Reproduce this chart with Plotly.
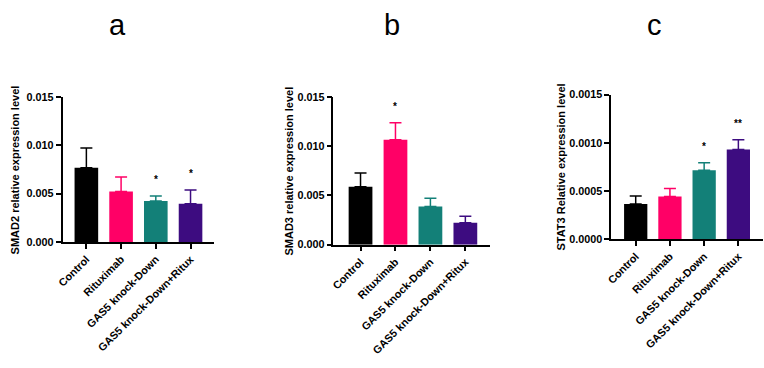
import plotly.graph_objects as go

categories = ["Control", "Rituximab", "GAS5 knock-Down", "GAS5 knock-Down+Ritux"]
colors = ["#000000", "#FF0066", "#138078", "#3D0C80"]

smad2_mean = [0.00767, 0.00523, 0.00423, 0.00397]
smad2_err = [0.00206, 0.00150, 0.00054, 0.00140]
smad2_sig = ["", "", "*", "*"]

smad3_mean = [0.00589, 0.01065, 0.00387, 0.00223]
smad3_err = [0.00138, 0.00173, 0.00085, 0.00066]
smad3_sig = ["", "*", "", ""]

stat3_mean = [0.000365, 0.000442, 0.000716, 0.000931]
stat3_err = [0.000084, 0.000083, 0.000078, 0.000100]
stat3_sig = ["", "", "*", "**"]

smad_ticks = [0, 0.005, 0.010, 0.015]
smad_ticktext = ["0.000", "0.005", "0.010", "0.015"]
stat_ticks = [0, 0.0005, 0.0010, 0.0015]
stat_ticktext = ["0.0000", "0.0005", "0.0010", "0.0015"]

panels = [
    dict(mean=smad2_mean, err=smad2_err, sig=smad2_sig, title="SMAD2 relative expression level",
         letter="a", ticks=smad_ticks, ticktext=smad_ticktext, yr=[0, 0.015],
         xdom=[57 / 764, 210 / 764], ydom=[(368 - 244) / 368, (368 - 94) / 368],
         xr=[-0.686, 3.686], lx=112, tx=10),
    dict(mean=smad3_mean, err=smad3_err, sig=smad3_sig, title="SMAD3 relative expression level",
         letter="b", ticks=smad_ticks, ticktext=smad_ticktext, yr=[0, 0.015],
         xdom=[330 / 764, 488 / 764], ydom=[(368 - 246.7) / 368, (368 - 94) / 368],
         xr=[-0.776, 3.71], lx=389, tx=285),
    dict(mean=stat3_mean, err=stat3_err, sig=stat3_sig, title="STAT3 Relative expression level",
         letter="c", ticks=stat_ticks, ticktext=stat_ticktext, yr=[0, 0.0015],
         xdom=[610 / 764, 763 / 764], ydom=[(368 - 241) / 368, (368 - 91.7) / 368],
         xr=[-0.716, 3.72], lx=654, tx=559),
]

FONT = "Arial, Liberation Sans, sans-serif"
fig = go.Figure()
annotations = []

for i, p in enumerate(panels):
    n = i + 1
    xa = "x" if n == 1 else f"x{n}"
    ya = "y" if n == 1 else f"y{n}"
    for j, cat in enumerate(categories):
        fig.add_trace(go.Bar(
            x=[cat], y=[p["mean"][j]], xaxis=xa, yaxis=ya,
            width=0.68, marker=dict(color=colors[j], line=dict(width=0)),
            error_y=dict(type="data", array=[p["err"][j]], arrayminus=[0], symmetric=False,
                         color=colors[j], thickness=1.5, width=6),
            showlegend=False,
        ))
        if p["sig"][j]:
            annotations.append(dict(
                x=cat, y=p["mean"][j] + p["err"][j], xref=xa, yref=ya,
                text=p["sig"][j], showarrow=False, yanchor="bottom", yshift=9,
                font=dict(family=FONT, size=10, color="#000000", weight="bold"),
            ))
    axis_x = dict(
        domain=p["xdom"], range=p["xr"], anchor=ya, showline=True, linecolor="#000000",
        linewidth=1.5, ticks="outside", ticklen=5, tickwidth=1.5, tickcolor="#000000",
        tickangle=-45, showgrid=False, zeroline=False,
        tickfont=dict(family=FONT, size=10.8, color="#000000", weight="bold"),
        categoryorder="array", categoryarray=categories,
    )
    axis_y = dict(
        domain=p["ydom"], range=p["yr"], anchor=xa, showline=True, linecolor="#000000",
        linewidth=1.5, ticks="outside", ticklen=5, tickwidth=1.5, tickcolor="#000000",
        tickmode="array", tickvals=p["ticks"], ticktext=p["ticktext"],
        showgrid=False, zeroline=False,
        tickfont=dict(family=FONT, size=10.8, color="#000000", weight="bold"),
    )
    fig.update_layout(**{("xaxis" if n == 1 else f"xaxis{n}"): axis_x,
                         ("yaxis" if n == 1 else f"yaxis{n}"): axis_y})
    ymid = (p["ydom"][0] + p["ydom"][1]) / 2
    annotations.append(dict(
        x=p["tx"] / 764, y=ymid, xref="paper", yref="paper", text=p["title"],
        textangle=-90, showarrow=False, xanchor="center", yanchor="middle",
        font=dict(family=FONT, size=11, color="#000000", weight="bold"),
    ))
    annotations.append(dict(
        x=p["lx"] / 764, y=1 - 20 / 368, xref="paper", yref="paper", text=p["letter"],
        showarrow=False, xanchor="center", yanchor="middle",
        font=dict(family=FONT, size=29, color="#000000"),
    ))

fig.update_layout(
    width=764, height=368, margin=dict(l=0, r=0, t=0, b=0),
    paper_bgcolor="#FFFFFF", plot_bgcolor="#FFFFFF", barmode="overlay",
    annotations=annotations, showlegend=False,
)

fig.write_html("out.html")
